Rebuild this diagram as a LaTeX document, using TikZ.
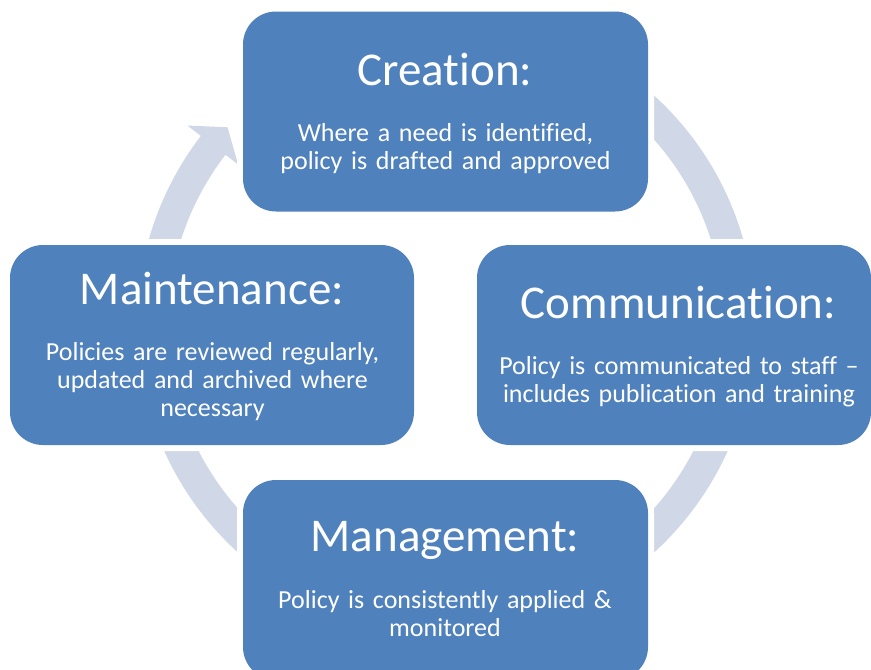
\documentclass[tikz,border=0pt]{standalone}
\usepackage{fontspec}
\setmainfont{Carlito}[Ligatures=NoCommon]
\usetikzlibrary{calc}
\definecolor{boxblue}{HTML}{4F81BD}
\definecolor{ringblue}{HTML}{D0D8E8}
\begin{document}
\begin{tikzpicture}[x=1pt,y=-1pt,
  stage/.style={fill=boxblue, rounded corners=33pt, minimum height=200pt,
    inner sep=0pt, preaction={draw=white, line width=12pt}},
  heading/.style={text=white, anchor=base, inner sep=0pt,
    font=\fontsize{47}{56}\selectfont},
  detail/.style={text=white, anchor=base, align=center, inner sep=0pt,
    text width=390pt, font=\fontsize{26}{28}\selectfont}]
\useasboundingbox (0,0) rectangle (871,670);
\clip (0,0) rectangle (871,670);

% circular arrow running clockwise behind the four stages
\coordinate (hub) at (446,324);
\fill[ringblue]
  ($(hub)+(260:309)$) arc[start angle=260, end angle=577.5, radius=309]
  -- ($(hub)+(577.5:326)$) -- ($(hub)+(582:294)$) -- ($(hub)+(577.5:262)$)
  -- ($(hub)+(577.5:278)$) arc[start angle=577.5, end angle=260, radius=278]
  -- cycle;

% stage boxes
\node[stage, minimum width=405pt] (creation) at (445.5,111.5) {};
\node[stage, minimum width=404pt] (maintenance) at (212,345) {};
\node[stage, minimum width=394pt] (communication) at (674,345) {};
\node[stage, minimum width=405pt] (management) at (445.5,580) {};

% stage texts
\node[heading] (creationT) at (445,85) {Creation:};
\node[detail] (creationD) at (445.5,141.7)
  {Where a need is identified,\\policy is drafted and approved};

\node[heading] (maintenanceT) at (212,304) {Maintenance:};
\node[detail] (maintenanceD) at (212.5,360)
  {Policies are reviewed regularly,\\updated and archived where\\necessary};

\node[heading] (communicationT) at (678.5,318) {Communication:};
\node[detail] (communicationD) at (679,374)
  {Policy is communicated to staff --\\includes publication and training};

\node[heading] (managementT) at (445,551.7) {Management:};
\node[detail] (managementD) at (445,608.3)
  {Policy is consistently applied \&\\monitored};
\end{tikzpicture}
\end{document}
